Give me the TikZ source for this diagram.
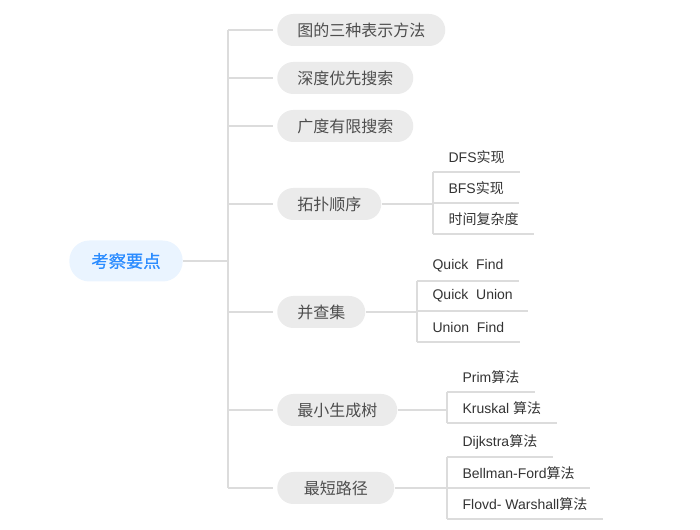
\documentclass[tikz,border=0pt]{standalone}
\usepackage{fontspec}
\setmainfont{Liberation Sans}
\newfontfamily\cjk{Noto Sans CJK SC}
\newfontfamily\cjkbold[FakeBold=0.7]{Noto Sans CJK SC}
\definecolor{linegray}{HTML}{DCDCDC}
\definecolor{pillgray}{HTML}{EBEBEB}
\definecolor{pilltext}{HTML}{4D4D4D}
\definecolor{leaftext}{HTML}{333333}
\definecolor{rootfill}{HTML}{EAF4FF}
\definecolor{roottext}{HTML}{2B8CFF}
\tikzset{link/.style = {draw=linegray, line width=0.8pt}}
\tikzset{pill/.style = {fill=pillgray, text=pilltext, rounded corners=12pt, minimum height=24pt, inner xsep=15pt, anchor=west, font=\cjk\fontsize{12}{14}\selectfont}}
\tikzset{rootpill/.style = {fill=rootfill, text=roottext, rounded corners=15pt, minimum height=30.75pt, inner xsep=16.5pt, font=\cjkbold\fontsize{13}{15}\selectfont}}
\tikzset{leaf/.style = {anchor=south west, inner xsep=11.5pt, inner ysep=0pt, minimum height=21.75pt, text=leaftext, font=\fontsize{10.5}{12}\selectfont}}

\begin{document}
\begin{tikzpicture}[x=0.75pt, y=-0.75pt]
    \useasboundingbox (0,0) rectangle (700,530);
    % root and main topics
    \node at (126,261) [rootpill] (root) {考察要点};
    \coordinate (spine) at (228,261);
    \node at (277,30) [pill] (t1) {图的三种表示方法};
    \node at (277,78) [pill] (t2) {深度优先搜索};
    \node at (277,126) [pill] (t3) {广度有限搜索};
    \node at (277,204) [pill] (t4) {拓扑顺序};
    \node at (277,312) [pill] (t5) {并查集};
    \node at (277,410) [pill] (t6) {最小生成树};
    \node at (277,488) [pill, minimum width=87.75pt] (t7) {最短路径};
    \draw [link] (root.east) -- (root.east -| spine);
    \draw [link] (spine |- t1) -- (spine |- t7);
    \foreach \t in {t1,t2,t3,t4,t5,t6,t7}
        \draw [link, shorten >=3pt] (spine |- \t) -- (\t.west);
    % leaves
    \node at (433,172) [leaf] (dfs) {DFS{\cjk 实现}};
    \node at (433,203) [leaf] (bfs) {BFS{\cjk 实现}};
    \node at (433,234) [leaf] (cplx) {\cjk 时间复杂度};
    \node at (417,281) [leaf] (qf) {Quick~~Find};
    \node at (417,311) [leaf] (qu) {Quick~~Union};
    \node at (417,342) [leaf] (uf) {Union~~Find};
    \node at (447,392) [leaf] (prim) {Prim{\cjk 算法}};
    \node at (447,423) [leaf] (krus) {Kruskal {\cjk 算法}};
    \node at (447,457) [leaf] (dij) {Dijkstra{\cjk 算法}};
    \node at (447,488) [leaf] (bell) {Bellman-Ford{\cjk 算法}};
    \node at (447,519) [leaf] (flo) {Flovd- Warshall{\cjk 算法}};
    \foreach \l in {dfs,bfs,cplx,qf,qu,uf,prim,krus,dij,bell,flo}
        \draw [link] (\l.south west) -- (\l.south east);
    \draw [link] (dfs.south west) -- (cplx.south west);
    \draw [link] (qf.south west) -- (uf.south west);
    \draw [link] (prim.south west) -- (krus.south west);
    \draw [link] (dij.south west) -- (flo.south west);
    \draw [link] (t4.east) -- (t4.east -| dfs.south west);
    \draw [link] (t5.east) -- (t5.east -| qf.south west);
    \draw [link] (t6.east) -- (t6.east -| prim.south west);
    \draw [link] (t7.east) -- (t7.east -| dij.south west);
\end{tikzpicture}
\end{document}
